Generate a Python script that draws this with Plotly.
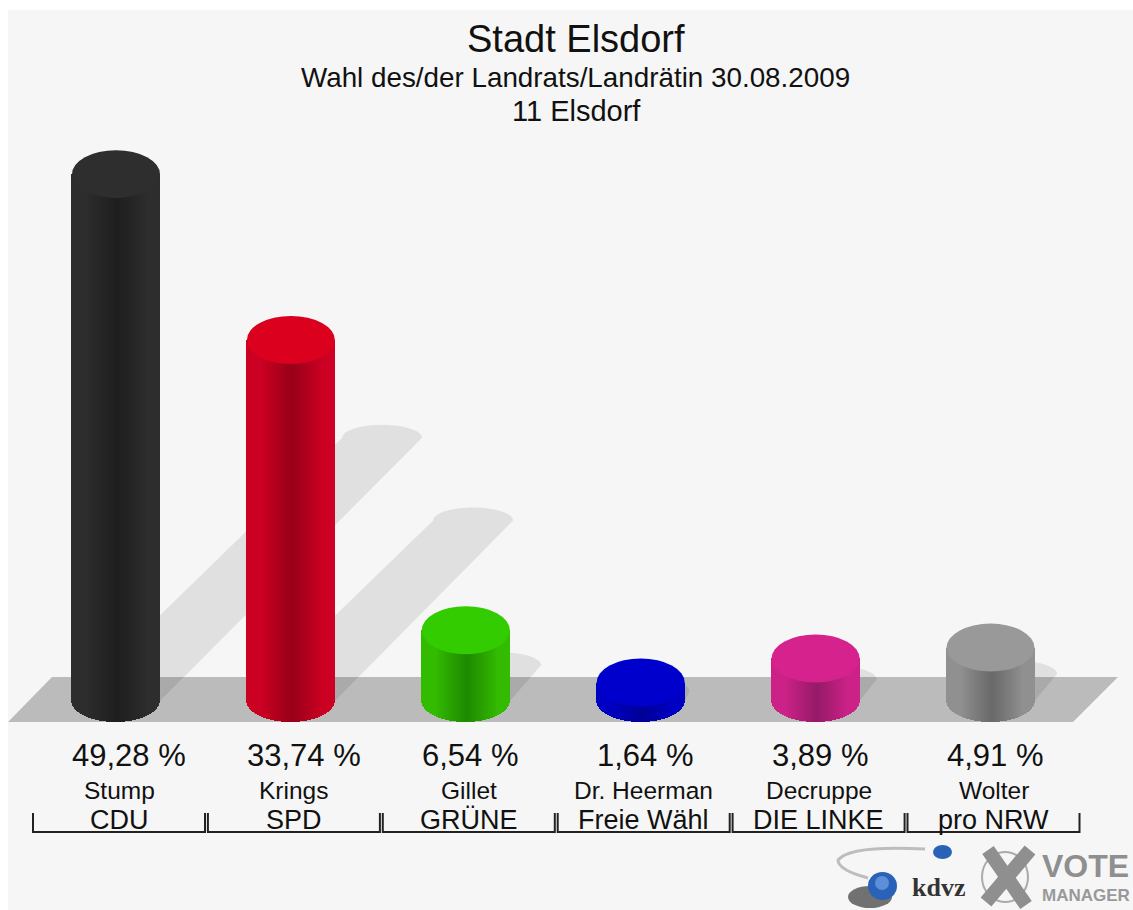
import math
import plotly.graph_objects as go

names = ["Stump", "Krings", "Gillet", "Dr. Heerman", "Decruppe", "Wolter"]
parties = ["CDU", "SPD", "GRÜNE", "Freie Wähl", "DIE LINKE", "pro NRW"]
values = [49.28, 33.74, 6.54, 1.64, 3.89, 4.91]
value_labels = ["49,28 %", "33,74 %", "6,54 %", "1,64 %", "3,89 %", "4,91 %"]
top_colors = ["#2e2e2e", "#dc001f", "#33cc00", "#0000cc", "#d6228c", "#999999"]
edge_colors = ["#2d2d2d", "#cc0022", "#33bb00", "#0000c4", "#cc2288", "#909090"]
core_colors = ["#1e1e1e", "#990018", "#1e8a00", "#000096", "#961a68", "#696969"]
title = "Stadt Elsdorf"
subtitle = "Wahl des/der Landrats/Landrätin 30.08.2009"
subtitle2 = "11 Elsdorf"

W, H = 1133, 910
X0, XSTEP = 116.0, 174.9      # pixel of category 0, pixels per category
Y0, YSTEP = 700.0, 10.67      # pixel of value 0, pixels per unit
FONT = "Liberation Sans"


def dx(px):
    return (px - X0) / XSTEP


def dy(py):
    return (Y0 - py) / YSTEP


def hexrgb(c):
    return tuple(int(c[i:i + 2], 16) for i in (1, 3, 5))


def mix(a, b, t):
    ra, rb = hexrgb(a), hexrgb(b)
    return "rgb(%d,%d,%d)" % tuple(round(p + (q - p) * t) for p, q in zip(ra, rb))


half_w = 44 / XSTEP
n_strips = 88
strip_w = 2 * half_w / n_strips
bot_depth = 22 / YSTEP
top_ry = 24 / YSTEP

bx, by, bbase, bcol = [], [], [], []
for i, v in enumerate(values):
    for j in range(n_strips):
        t = (j + 0.5) / n_strips * 2 - 1
        base = -bot_depth * math.sqrt(max(0.0, 1 - t * t))
        shade = max(0.0, 1 - abs(t - 0.04) / 0.7) ** 0.9
        bx.append(i + t * half_w)
        by.append(v - base)
        bbase.append(base)
        bcol.append(mix(edge_colors[i], core_colors[i], shade))

fig = go.Figure()
fig.add_trace(go.Bar(
    x=bx, y=by, base=bbase, width=strip_w * 1.1,
    marker=dict(color=bcol, line=dict(width=0)),
    hoverinfo="skip", showlegend=False,
))

shapes = []
# panel
shapes.append(dict(type="rect", xref="x", yref="y", layer="below",
                   x0=dx(8), x1=dx(W + 5), y0=dy(H + 5), y1=dy(10),
                   fillcolor="#f6f6f6", line_width=0))
# floor
shapes.append(dict(type="path", xref="x", yref="y", layer="below",
                   path=f"M {dx(8)},{dy(722)} L {dx(52)},{dy(677)} L {dx(1118)},{dy(677)} L {dx(1073)},{dy(722)} Z",
                   fillcolor="#bbbbbb", line_width=0))
# cast shadows: tip position follows the value
SHX, SHY = 5.4 / XSTEP, 5.32 / YSTEP
tip_w, tip_ry = 40 / XSTEP, 13 / YSTEP
for i, v in enumerate(values):
    cx, cy = i + SHX * v, SHY * v
    pts = [(i + half_w, -0.1), (cx + tip_w, cy)]
    for a in range(1, 24):
        th = math.pi * a / 24
        pts.append((cx + tip_w * math.cos(th), cy + tip_ry * math.sin(th)))
    pts.append((cx - tip_w, cy))
    pts.append((i - half_w, -0.1))
    path = "M " + " L ".join(f"{p},{q}" for p, q in pts) + " Z"
    shapes.append(dict(type="path", xref="x", yref="y", layer="below", path=path,
                       fillcolor="rgba(0,0,0,0.085)", line_width=0))
# cylinder tops
for i, v in enumerate(values):
    shapes.append(dict(type="circle", xref="x", yref="y", layer="above",
                       x0=i - half_w, x1=i + half_w, y0=v - top_ry, y1=v + top_ry,
                       fillcolor=top_colors[i], line_width=0))
# brackets under each category
for i in range(len(values)):
    c = i + 3 / XSTEP
    hw = 86 / XSTEP
    shapes.append(dict(type="path", xref="x", yref="y", layer="above",
                       path=f"M {c - hw},{dy(813)} L {c - hw},{dy(832)} L {c + hw},{dy(832)} L {c + hw},{dy(813)}",
                       line=dict(color="#222222", width=2)))

# logo
shapes.append(dict(type="path", xref="x", yref="y", layer="above",
                   path=f"M {dx(925)},{dy(849)} Q {dx(850)},{dy(845)} {dx(838)},{dy(860)} Q {dx(838)},{dy(870)} {dx(868)},{dy(878)}",
                   line=dict(color="#bdbdbd", width=3)))
shapes.append(dict(type="circle", xref="x", yref="y", layer="above",
                   x0=dx(848), x1=dx(892), y0=dy(908), y1=dy(886),
                   fillcolor="#444444", line_width=0, opacity=0.75))
shapes.append(dict(type="circle", xref="x", yref="y", layer="above",
                   x0=dx(868), x1=dx(897), y0=dy(900), y1=dy(872),
                   fillcolor="#2a62b8", line_width=0))
shapes.append(dict(type="circle", xref="x", yref="y", layer="above",
                   x0=dx(875), x1=dx(889), y0=dy(890), y1=dy(876),
                   fillcolor="#5c8fd8", line_width=0))
shapes.append(dict(type="circle", xref="x", yref="y", layer="above",
                   x0=dx(933), x1=dx(952), y0=dy(859), y1=dy(845),
                   fillcolor="#2a62b8", line_width=0))
shapes.append(dict(type="circle", xref="x", yref="y", layer="above",
                   x0=dx(982), x1=dx(1028), y0=dy(902), y1=dy(852),
                   fillcolor="rgba(0,0,0,0)", line=dict(color="#aaaaaa", width=2)))
for a, b, c, d in [(986, 902, 1030, 850), (988, 850, 1026, 905)]:
    shapes.append(dict(type="line", xref="x", yref="y", layer="above",
                       x0=dx(a), y0=dy(b), x1=dx(c), y1=dy(d),
                       line=dict(color="#8f8f8f", width=14)))

ann = []


def text(px, py, s, size, color="#111111", anchor="center", weight=None, family=FONT):
    fnt = dict(family=family, size=size, color=color)
    if weight:
        fnt["weight"] = weight
    ann.append(dict(x=dx(px), y=dy(py), xref="x", yref="y", text=s, showarrow=False,
                    xanchor=anchor, yanchor="middle", font=fnt))


text(576, 39, title, 38)
text(575, 77, subtitle, 27.8)
text(576, 111, subtitle2, 29)
for i in range(len(values)):
    ann.append(dict(x=i - 44 / XSTEP, y=dy(755), xref="x", yref="y", text=value_labels[i],
                    showarrow=False, xanchor="left", yanchor="middle",
                    font=dict(family=FONT, size=31, color="#111111"), xshift=-2))
    ann.append(dict(x=i + 3 / XSTEP, y=dy(790), xref="x", yref="y", text=names[i],
                    showarrow=False, xanchor="center", yanchor="middle",
                    font=dict(family=FONT, size=24.5, color="#111111")))
    ann.append(dict(x=i + 3 / XSTEP, y=dy(820), xref="x", yref="y", text=parties[i],
                    showarrow=False, xanchor="center", yanchor="middle",
                    font=dict(family=FONT, size=27, color="#111111")))

text(938, 887, "kdvz", 26, color="#333333", weight="bold", family="Liberation Serif")
text(1040, 866, "VOTE", 32, color="#8f8f8f", anchor="left", weight="bold")
text(1040, 895, "MANAGER", 17, color="#999999", anchor="left", weight="bold")

fig.update_layout(
    width=W, height=H, autosize=False,
    margin=dict(l=0, r=0, t=0, b=0, pad=0),
    paper_bgcolor="#ffffff", plot_bgcolor="rgba(0,0,0,0)",
    barmode="overlay", bargap=0, showlegend=False,
    xaxis=dict(range=[dx(0), dx(W)], visible=False, fixedrange=True),
    yaxis=dict(range=[dy(H), dy(0)], visible=False, fixedrange=True),
    shapes=shapes, annotations=ann,
)

fig.write_html("out.html", config={"displayModeBar": False},
               post_script="document.body.style.margin='0';document.documentElement.style.overflow='hidden';")
